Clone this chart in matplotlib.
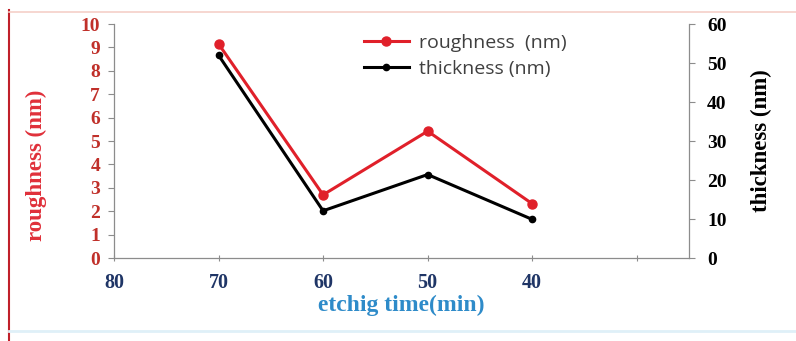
import matplotlib.pyplot as plt
from matplotlib.lines import Line2D

# data
etch_time = [70, 60, 50, 40]
roughness = [9.15, 2.7, 5.42, 2.32]
thickness = [52.0, 12.1, 21.4, 9.9]

xtick_vals = [80, 70, 60, 50, 40, 30]
xtick_text = ["80", "70", "60", "50", "40", ""]

serif = "Liberation Serif"
red_dark = "#c0302a"
red_line = "#e0202a"
navy = "#1f3566"

fig = plt.figure(figsize=(7.96, 3.41), dpi=100)
ax = fig.add_axes([0.1432, 0.2434, 0.7224, 0.6862])
ax2 = ax.twinx()

ax.plot(etch_time, roughness, color=red_line, marker="o", ms=6.5, lw=2.2,
        label="roughness  (nm)", zorder=3)
ax2.plot(etch_time, thickness, color="black", marker="o", ms=4.5, lw=2.2,
         label="thickness (nm)")

ax.set_xlim(80, 25)
ax.set_ylim(0, 10)
ax2.set_ylim(0, 60)
ax.set_xticks(xtick_vals)
ax.set_xticklabels(xtick_text)
ax.set_yticks(range(0, 11))
ax2.set_yticks(range(0, 61, 10))

for a in (ax, ax2):
    for s in a.spines.values():
        s.set_color("#8c8c8c")
        s.set_linewidth(0.9)
    a.spines["top"].set_visible(False)
ax.spines["right"].set_visible(False)
ax2.spines["left"].set_visible(False)
ax2.spines["bottom"].set_visible(False)

ax.tick_params(axis="y", colors="#8c8c8c", labelcolor=red_dark, length=4, width=0.8, pad=6)
ax.tick_params(axis="x", colors="#8c8c8c", labelcolor=navy, length=4, width=0.8,
               direction="inout", pad=9)
ax2.tick_params(axis="y", colors="#8c8c8c", labelcolor="black", length=4, width=0.8, pad=9)

for lab in ax.get_yticklabels():
    lab.set_fontfamily(serif)
    lab.set_fontweight("bold")
    lab.set_fontsize(14)
for lab in ax.get_xticklabels():
    lab.set_fontfamily(serif)
    lab.set_fontweight("bold")
    lab.set_fontsize(14.5)
for lab in ax2.get_yticklabels():
    lab.set_fontfamily(serif)
    lab.set_fontweight("bold")
    lab.set_fontsize(14)

ax.set_ylabel("roughness (nm)", color="#e0303a", fontfamily=serif,
              fontweight="bold", fontsize=16.5)
ax.yaxis.set_label_coords(-0.117, 0.395)
ax2.set_ylabel("thickness (nm)", color="black", fontfamily=serif,
               fontweight="bold", fontsize=16.5, rotation=90)
ax2.yaxis.set_label_coords(1.107, 0.5)
ax.set_xlabel("etchig time(min)", color="#2e8bc9", fontfamily=serif,
              fontweight="bold", fontsize=17, labelpad=1)

h1, l1 = ax.get_legend_handles_labels()
h2, l2 = ax2.get_legend_handles_labels()
leg = ax2.legend(h1 + h2, l1 + l2, loc="upper left", bbox_to_anchor=(0.428, 0.975),
                 frameon=False, handlelength=2.3, handletextpad=0.55,
                 borderaxespad=0, borderpad=0.2,
                 labelspacing=0.4, prop={"family": "Open Sans", "size": 14})
for t in leg.get_texts():
    t.set_color("#404040")

# picture frame lines
fig.add_artist(Line2D([0.011, 0.011], [0.0, 0.97], color="#c0202a", lw=1.5))
fig.add_artist(Line2D([0.011, 1.0], [0.965, 0.965], color="#f5d0c8", lw=1.2))
fig.add_artist(Line2D([0.011, 1.0], [0.03, 0.03], color="#dff0f8", lw=2))

fig.savefig("out.png", dpi=100)
